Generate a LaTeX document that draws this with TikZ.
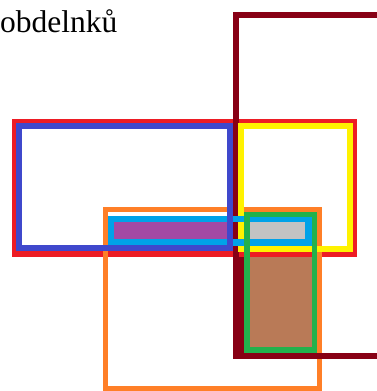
\documentclass[tikz,border=0pt]{standalone}
\usepackage{fontspec}
\setmainfont{Liberation Serif}
\usepackage{xcolor}
\usepackage{tikz}
\definecolor{paintmaroon}{HTML}{880015}
\definecolor{paintred}{HTML}{ED1C24}
\definecolor{paintorange}{HTML}{FF7F27}
\definecolor{paintyellow}{HTML}{FFF200}
\definecolor{paintgreen}{HTML}{22B14C}
\definecolor{paintcyan}{HTML}{00A2E8}
\definecolor{paintblue}{HTML}{3F48CC}
\definecolor{paintpurple}{HTML}{A349A4}
\definecolor{paintgray}{HTML}{C3C3C3}
\definecolor{paintbrown}{HTML}{B97A57}

\begin{document}
\begin{tikzpicture}[
			x=1pt, y=-1pt,
			frame/.style={draw, line join=miter},
			rmaroon/.style={frame, draw=paintmaroon, line width=6pt},
			rred/.style={frame, draw=paintred, line width=6pt},
			rorange/.style={frame, draw=paintorange, line width=5pt},
			ryellow/.style={frame, draw=paintyellow, line width=6pt},
			rcyan/.style={frame, draw=paintcyan, line width=6.5pt},
			rblue/.style={frame, draw=paintblue, line width=6pt},
			rgreen/.style={frame, draw=paintgreen, line width=5.5pt},
			caption/.style={anchor=base west, inner sep=0pt, font=\fontsize{31.5}{36}\selectfont},
			]
			
			\fill[white] (0,0) rectangle (377,391);
			\useasboundingbox (0,0) rectangle (377,391);
			\clip (0,0) rectangle (377,391);
			
			\node[caption] (title) at (0,32) {obdelnků};
			
			% intersections
			\fill[paintpurple] (111,219) rectangle (230,242.5);
			\fill[paintgray] (247,219) rectangle (308.5,242.5);
			\fill[paintbrown] (247,254) rectangle (314.5,350);
			\fill[paintmaroon] (236,254) rectangle (247,355.5);
			
			% rectangles
			\draw[rred] (15,122) rectangle (354,254);
			\draw[rorange] (105.5,209) rectangle (319.5,388.5);
			\draw[rmaroon] (236,14.5) rectangle (400,355.5);
			\draw[ryellow] (241,126) rectangle (349.5,248.5);
			\draw[rcyan] (111,219) rectangle (308.5,242.5);
			\draw[rblue] (19,126) rectangle (230,248);
			\draw[rgreen] (247,214.5) rectangle (314.5,350);
			
		\end{tikzpicture}
\end{document}
